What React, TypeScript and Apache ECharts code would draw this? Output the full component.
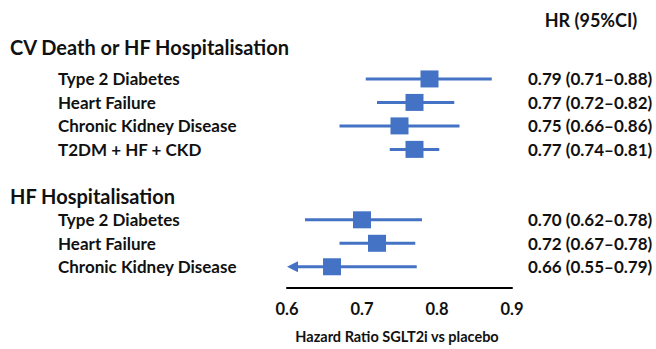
import React, { useEffect, useRef } from "react";
import * as echarts from "echarts";

// Rows from top to bottom (blank rows are spacers)
const rowNames = [
  "",
  "CV Death or HF Hospitalisation",
  "Type 2 Diabetes",
  "Heart Failure",
  "Chronic Kidney Disease",
  "T2DM + HF + CKD",
  "",
  "HF Hospitalisation",
  "Type 2 Diabetes",
  "Heart Failure",
  "Chronic Kidney Disease",
];
const rowIsHeading = [false, true, false, false, false, false, false, true, false, false, false];
// Hazard ratios (point estimate)
const hr = [null, null, 0.79, 0.77, 0.75, 0.77, null, null, 0.70, 0.72, 0.66];
// Whisker ends as drawn in the picture
const ciLow = [null, null, 0.705, 0.72, 0.67, 0.737, null, null, 0.624, 0.67, 0.55];
const ciHigh = [null, null, 0.873, 0.823, 0.83, 0.803, null, null, 0.78, 0.771, 0.773];
// Printed HR (95%CI) texts
const hrText = [
  "",
  "",
  "0.79 (0.71–0.88)",
  "0.77 (0.72–0.82)",
  "0.75 (0.66–0.86)",
  "0.77 (0.74–0.81)",
  "",
  "",
  "0.70 (0.62–0.78)",
  "0.72 (0.67–0.78)",
  "0.66 (0.55–0.79)",
];
const xTicks = [0.6, 0.7, 0.8, 0.9];
const xAxisTitle = "Hazard Ratio SGLT2i vs placebo";
const columnTitle = "HR (95%CI)";

const FONT = "Lato";
const BLUE = "#4472C4";
const INK = "#111111";

export default function App() {
  const ref = useRef<HTMLDivElement>(null);

  useEffect(() => {
    if (!ref.current) return;
    const chart = echarts.init(ref.current, undefined, { renderer: "svg" });
    const cats = rowNames.map((_, i) => String(i));
    const xMin = xTicks[0];
    const xMax = xTicks[xTicks.length - 1];

    const whiskers: any[] = [];
    const points: any[] = [];
    rowNames.forEach((_, i) => {
      if (hr[i] != null) {
        whiskers.push([ciLow[i], ciHigh[i], i]);
        points.push([hr[i], i]);
      }
    });

    const option: any = {
      animation: false,
      grid: { left: 287, right: 144, top: 20.25, height: 258.5, containLabel: false },
      xAxis: {
        type: "value",
        min: xMin,
        max: xMax,
        interval: 0.1,
        offset: 9.5,
        axisLine: { show: true, lineStyle: { color: "#000", width: 2 } },
        axisTick: { show: false },
        splitLine: { show: false },
        axisLabel: {
          margin: 12,
          fontFamily: FONT,
          fontWeight: "bold",
          fontSize: 16.5,
          color: INK,
          formatter: (v: number) => v.toFixed(1),
        },
        name: xAxisTitle,
        nameLocation: "middle",
        nameGap: 41,
        nameTextStyle: { fontFamily: FONT, fontWeight: "bold", fontSize: 14.5, color: INK, padding: [0, 5, 0, 0] },
      },
      yAxis: [
        {
          type: "category",
          data: cats,
          inverse: true,
          position: "left",
          axisLine: { show: false },
          axisTick: { show: false },
          splitLine: { show: false },
          axisLabel: {
            interval: 0,
            margin: 277,
            align: "left",
            formatter: (v: string) => {
              const i = Number(v);
              const name = rowNames[i];
              if (!name) return "";
              if (rowIsHeading[i]) return i === 1 ? `{h1|${name}}` : `{h|${name}}`;
              return `{s|${name}}`;
            },
            rich: {
              h1: { fontFamily: FONT, fontWeight: "bold", fontSize: 20, color: INK, padding: [0, 0, 17, 0] },
              h: { fontFamily: FONT, fontWeight: "bold", fontSize: 20, color: INK },
              s: { fontFamily: FONT, fontWeight: "bold", fontSize: 17, color: INK, padding: [0, 0, 0, 48] },
            },
          },
        },
        {
          type: "category",
          data: cats,
          inverse: true,
          position: "right",
          axisLine: { show: false },
          axisTick: { show: false },
          splitLine: { show: false },
          axisLabel: {
            interval: 0,
            margin: 16,
            align: "left",
            fontFamily: FONT,
            fontWeight: "bold",
            fontSize: 17,
            color: INK,
            formatter: (v: string) => hrText[Number(v)],
          },
        },
      ],
      graphic: [
        {
          type: "text",
          x: 591,
          y: 20,
          style: {
            text: columnTitle,
            fontFamily: FONT,
            fontWeight: "bold",
            fontSize: 18,
            fill: INK,
            align: "center",
            verticalAlign: "middle",
          },
        },
      ],
      series: [
        {
          type: "custom",
          data: whiskers,
          encode: { x: [0, 1], y: 2 },
          clip: false,
          renderItem: (params: any, api: any) => {
            const lo = api.value(0);
            const hi = api.value(1);
            const y = api.value(2);
            const p1 = api.coord([Math.max(lo, xMin), y]);
            const p2 = api.coord([hi, y]);
            const children: any[] = [];
            if (lo < xMin) {
              children.push({
                type: "line",
                shape: { x1: p1[0] + 8, y1: p1[1], x2: p2[0], y2: p2[1] },
                style: { stroke: BLUE, lineWidth: 3 },
              });
              children.push({
                type: "polygon",
                shape: {
                  points: [
                    [p1[0], p1[1]],
                    [p1[0] + 11, p1[1] - 5.5],
                    [p1[0] + 11, p1[1] + 5.5],
                  ],
                },
                style: { fill: BLUE },
              });
            } else {
              children.push({
                type: "line",
                shape: { x1: p1[0], y1: p1[1], x2: p2[0], y2: p2[1] },
                style: { stroke: BLUE, lineWidth: 3 },
              });
            }
            return { type: "group", children };
          },
          z: 2,
        },
        {
          type: "scatter",
          data: points,
          symbol: "rect",
          symbolSize: [18, 17],
          itemStyle: { color: BLUE, opacity: 1 },
          z: 3,
        },
      ],
    };
    chart.setOption(option);
    return () => chart.dispose();
  }, []);

  return (
    <div
      ref={ref}
      style={{ position: "absolute", left: 0, top: 0, width: 656, height: 349, background: "#fff" }}
    />
  );
}
